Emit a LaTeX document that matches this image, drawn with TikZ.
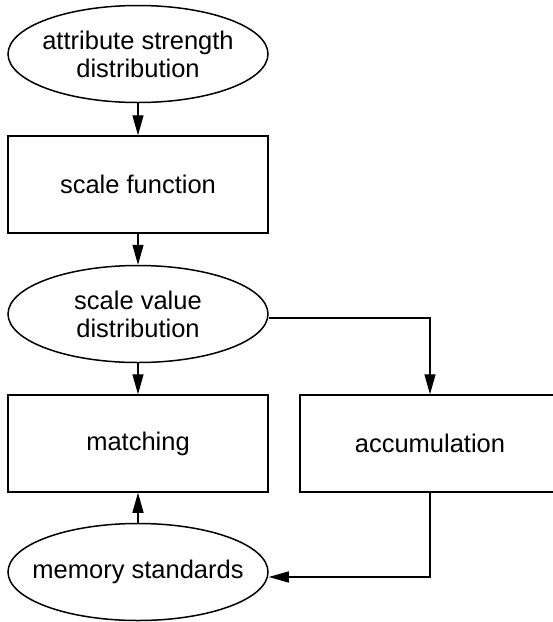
\documentclass[tikz,border=0pt]{standalone}
\usepackage{fontspec}
\setmainfont{Liberation Sans}
\usetikzlibrary{arrows.meta,shapes.geometric}
\begin{document}
\begin{tikzpicture}[x=1pt,y=-1pt,
  lbl/.style={font=\fontsize{25.5}{28}\selectfont, align=center, inner sep=0pt},
  oval/.style={ellipse, draw, line width=1.5pt, minimum width=260pt, minimum height=97pt, inner sep=0pt},
  boxnode/.style={rectangle, draw, line width=1.5pt, minimum width=260pt, minimum height=97pt, inner sep=0pt, lbl},
  conn/.style={line width=1.4pt, -{Triangle[length=20pt,width=11pt]}}]
\useasboundingbox (0,0) rectangle (553,622);
\clip (0,0) rectangle (553,622);
\node[oval] (e1) at (138,54) {};
\node[lbl] (t1) at (e1.center) {attribute strength\\distribution};
\node[boxnode] (b1) at (138,184.5) {scale function};
\node[oval] (e2) at (138,314) {};
\node[lbl] (t2) at (e2.center) {scale value\\distribution};
\node[boxnode] (b2) at (138,443.5) {matching};
\node[boxnode] (b3) at (430,443.5) {accumulation};
\node[oval] (e3) at (138,572) {};
\node[lbl] (t3) at (e3.center) {memory standards};
\draw[conn] (e1.south) -- (b1.north);
\draw[conn] (b1.south) -- (e2.north);
\draw[conn] (e2.south) -- (b2.north);
\draw[conn] ([yshift=-4pt]e2.east) -| (b3.north);
\draw[conn] (b3.south) |- ([yshift=-5pt]e3.east);
\draw[conn] (e3.north) -- (b2.south);
\end{tikzpicture}
\end{document}
